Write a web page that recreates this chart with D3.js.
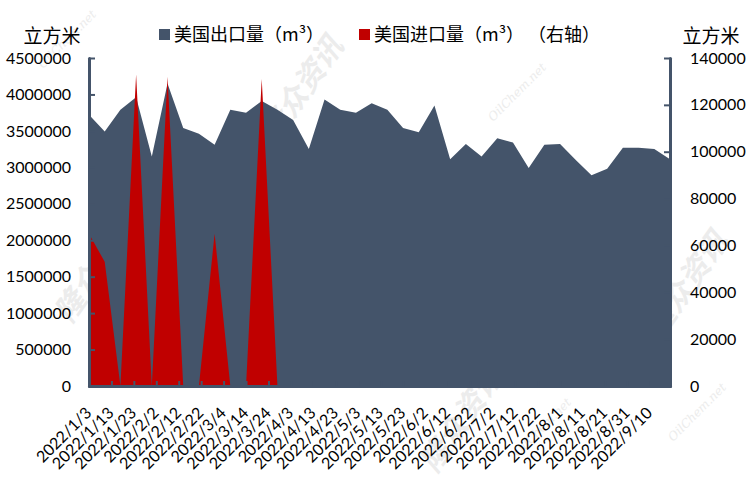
<!DOCTYPE html>
<html>
<head>
<meta charset="utf-8">
<script src="https://cdn.jsdelivr.net/npm/d3@7/dist/d3.min.js"></script>
<style>
  html, body { margin: 0; padding: 0; background: #fff; }
  svg { display: block; }
</style>
</head>
<body>
<svg id="chart" width="749" height="494"></svg>
<script>
// ---- data ----
const dates = [
  "2022-01-03","2022-01-10","2022-01-17","2022-01-24","2022-01-31","2022-02-07","2022-02-14","2022-02-21",
  "2022-02-28","2022-03-07","2022-03-14","2022-03-21","2022-03-28","2022-04-04","2022-04-11","2022-04-18",
  "2022-04-25","2022-05-02","2022-05-09","2022-05-16","2022-05-23","2022-05-30","2022-06-06","2022-06-13",
  "2022-06-20","2022-06-27","2022-07-04","2022-07-11","2022-07-18","2022-07-25","2022-08-01","2022-08-08",
  "2022-08-15","2022-08-22","2022-08-29","2022-09-05","2022-09-12","2022-09-19"
];
const exportValues = [
  3720000, 3490000, 3790000, 3960000, 3150000, 4150000, 3540000, 3460000,
  3310000, 3790000, 3750000, 3910000, 3790000, 3650000, 3250000, 3930000,
  3790000, 3750000, 3880000, 3790000, 3540000, 3480000, 3850000, 3110000,
  3320000, 3150000, 3400000, 3340000, 2990000, 3310000, 3320000, 3100000,
  2890000, 2980000, 3270000, 3270000, 3250000, 3110000
];
const importValues = [
  65000, 53000, 0, 133000, 0, 132000, 0, 0,
  65000, 0, 0, 131000, 0, null, null, null,
  null, null, null, null, null, null, null, null,
  null, null, null, null, null, null, null, null,
  null, null, null, null, null, null
];
const tickDates = [
  "2022-01-03","2022-01-13","2022-01-23","2022-02-02","2022-02-12","2022-02-22","2022-03-04","2022-03-14",
  "2022-03-24","2022-04-03","2022-04-13","2022-04-23","2022-05-03","2022-05-13","2022-05-23","2022-06-02",
  "2022-06-12","2022-06-22","2022-07-02","2022-07-12","2022-07-22","2022-08-01","2022-08-11","2022-08-21",
  "2022-08-31","2022-09-10"
];
const tickLabels = [
  "2022/1/3","2022/1/13","2022/1/23","2022/2/2","2022/2/12","2022/2/22","2022/3/4","2022/3/14",
  "2022/3/24","2022/4/3","2022/4/13","2022/4/23","2022/5/3","2022/5/13","2022/5/23","2022/6/2",
  "2022/6/12","2022/6/22","2022/7/2","2022/7/12","2022/7/22","2022/8/1","2022/8/11","2022/8/21",
  "2022/8/31","2022/9/10"
];
const leftTicks = [0, 500000, 1000000, 1500000, 2000000, 2500000, 3000000, 3500000, 4000000, 4500000];
const rightTicks = [0, 20000, 40000, 60000, 80000, 100000, 120000, 140000];
const seriesNames = ["美国出口量（m³）", "美国进口量（m³） （右轴）"];
const unitLabel = "立方米";

// ---- layout ----
const svg = d3.select("#chart");
const X0 = 89, X1 = 670, Y0 = 386, Y1 = 58;
const DARK = "#44546A", RED = "#C00000";
const numFont = "Lato, 'Open Sans', sans-serif";
const cjkFont = "'Noto Sans CJK SC', 'Noto Sans', sans-serif";

const parse = d3.timeParse("%Y-%m-%d");
const dateObjs = dates.map(parse);
const tickObjs = tickDates.map(parse);

const x = d3.scaleTime().domain([dateObjs[0], dateObjs[dateObjs.length - 1]]).range([X0, X1]);
const yL = d3.scaleLinear().domain([0, 4500000]).range([Y0, Y1]);
const yR = d3.scaleLinear().domain([0, 140000]).range([Y0, Y1]);

// ---- watermarks (faint) ----
const wm = svg.append("g").attr("fill", "#ececec").attr("font-family", cjkFont);
[[310, 95], [105, 275], [470, 425], [695, 290]].forEach(([cx, cy]) => {
  wm.append("text").attr("transform", `translate(${cx},${cy}) rotate(-55)`)
    .attr("text-anchor", "middle").attr("font-size", 30).attr("font-weight", "bold")
    .attr("font-style", "italic").text("隆众资讯");
});
[[70, 42], [520, 95], [545, 430], [700, 415]].forEach(([cx, cy]) => {
  wm.append("text").attr("transform", `translate(${cx},${cy}) rotate(-45)`)
    .attr("text-anchor", "middle").attr("font-size", 12).attr("font-style", "italic")
    .attr("font-family", "'DejaVu Serif', serif").text("OilChem.net");
});

// ---- areas ----
const exportData = dateObjs.map((d, i) => ({ date: d, v: exportValues[i] }));
const importData = dateObjs.map((d, i) => ({ date: d, v: importValues[i] }));

svg.append("path")
  .datum(exportData)
  .attr("fill", DARK)
  .attr("d", d3.area().x(d => x(d.date)).y0(Y0).y1(d => yL(d.v)));

svg.append("path")
  .datum(importData)
  .attr("fill", RED)
  .attr("d", d3.area().defined(d => d.v != null).x(d => x(d.date)).y0(Y0).y1(d => yR(d.v)));

// ---- axes ----
function styleAxis(g) {
  g.select(".domain").attr("stroke", DARK).attr("stroke-width", 3).attr("stroke-linecap", "round");
  g.selectAll(".tick line").attr("stroke", DARK).attr("stroke-width", 2);
  g.selectAll(".tick text").attr("fill", "#000").attr("font-family", numFont).attr("font-size", 16);
}

const gL = svg.append("g").attr("transform", `translate(${X0},0)`)
  .call(d3.axisLeft(yL).tickValues(leftTicks).tickFormat(d3.format("d"))
    .tickSizeInner(-6).tickSizeOuter(0).tickPadding(18));
styleAxis(gL);

const gR = svg.append("g").attr("transform", `translate(${X1},0)`)
  .call(d3.axisRight(yR).tickValues(rightTicks).tickFormat(d3.format("d"))
    .tickSizeInner(-6).tickSizeOuter(0).tickPadding(20));
styleAxis(gR);

const gB = svg.append("g").attr("transform", `translate(0,${Y0})`)
  .call(d3.axisBottom(x).tickValues(tickObjs).tickFormat((d, i) => tickLabels[i])
    .tickSizeInner(-5).tickSizeOuter(0));
styleAxis(gB);
gB.selectAll(".tick text")
  .attr("y", null).attr("dy", null)
  .attr("text-anchor", "end")
  .attr("transform", "translate(3,28) rotate(-45)");

// ---- axis titles ----
svg.append("text").attr("x", 52).attr("y", 43).attr("text-anchor", "middle")
  .attr("font-family", cjkFont).attr("font-size", 19).attr("fill", "#000").text(unitLabel);
svg.append("text").attr("x", 711).attr("y", 43).attr("text-anchor", "middle")
  .attr("font-family", cjkFont).attr("font-size", 19).attr("fill", "#000").text(unitLabel);

// ---- legend ----
const legendItems = [
  { name: seriesNames[0], color: DARK, x: 159 },
  { name: seriesNames[1], color: RED, x: 359 }
];
const lg = svg.append("g");
legendItems.forEach(it => {
  lg.append("rect").attr("x", it.x).attr("y", 29).attr("width", 11).attr("height", 11).attr("fill", it.color);
  lg.append("text").attr("x", it.x + 15).attr("y", 41)
    .attr("font-family", cjkFont).attr("font-size", 18).attr("fill", "#000").text(it.name);
});
</script>
</body>
</html>
